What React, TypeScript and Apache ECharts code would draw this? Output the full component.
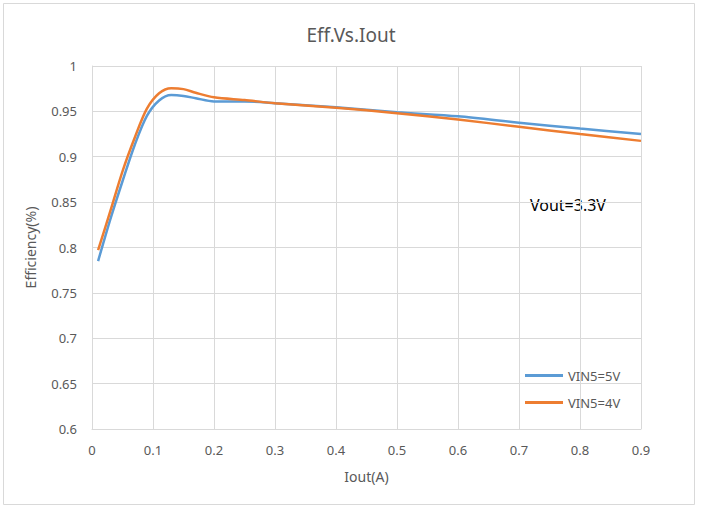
import React, { useEffect, useRef } from "react";
import * as echarts from "echarts";

const iout = [0.01, 0.03, 0.05, 0.07, 0.09, 0.11, 0.13, 0.15, 0.17, 0.2, 0.25, 0.3, 0.4, 0.5, 0.6, 0.7, 0.8, 0.9];
const vin5V = [0.785, 0.831, 0.873, 0.913, 0.945, 0.962, 0.968, 0.967, 0.9645, 0.961, 0.961, 0.959, 0.9545, 0.949, 0.9445, 0.9375, 0.931, 0.925];
const vin4V = [0.797, 0.84, 0.884, 0.921, 0.953, 0.97, 0.9755, 0.9745, 0.9705, 0.9655, 0.9625, 0.959, 0.954, 0.948, 0.941, 0.933, 0.925, 0.9175];
const seriesNames = ["VIN5=5V", "VIN5=4V"];
const titleText = "Eff.Vs.Iout";
const noteText = "Vout=3.3V";

const FONT = "'Noto Sans', 'Open Sans', sans-serif";
const TXT = "#595959";
const GRID = "#d9d9d9";

export default function App() {
  const ref = useRef<HTMLDivElement>(null);
  useEffect(() => {
    if (!ref.current) return;
    const chart = echarts.init(ref.current, null, { renderer: "svg" });
    const pair = (ys: number[]) => iout.map((x, i) => [x, ys[i]]);
    chart.setOption({
      animation: false,
      backgroundColor: "#fff",
      title: {
        text: titleText,
        left: "center",
        top: 20,
        textStyle: { fontFamily: FONT, fontSize: 19, fontWeight: "normal", color: TXT },
      },
      grid: { left: 92, right: 61, top: 66, bottom: 81 },
      legend: {
        orient: "vertical",
        left: 520,
        top: 364,
        itemWidth: 38,
        itemHeight: 3,
        itemGap: 14,
        icon: "rect",
        textStyle: { fontFamily: FONT, fontSize: 13, color: TXT },
        data: seriesNames,
      },
      graphic: [
        {
          type: "rect",
          shape: { x: 3.5, y: 3.5, width: 691, height: 501 },
          style: { fill: "none", stroke: GRID, lineWidth: 1 },
          silent: true,
        },
        {
          type: "text",
          left: 530,
          top: 197,
          style: { text: noteText, fontFamily: FONT, fontSize: 16, fill: "#000" },
        },
      ],
      xAxis: {
        type: "value",
        min: 0,
        max: 0.9,
        interval: 0.1,
        name: "Iout(A)",
        nameLocation: "middle",
        nameGap: 40,
        nameTextStyle: { fontFamily: FONT, fontSize: 14, color: TXT },
        axisLine: { show: true, lineStyle: { color: GRID } },
        axisTick: { show: false },
        axisLabel: { fontFamily: FONT, fontSize: 13, color: TXT, margin: 14 },
        splitLine: { show: true, lineStyle: { color: GRID } },
      },
      yAxis: {
        type: "value",
        min: 0.6,
        max: 1,
        interval: 0.05,
        name: "Efficiency(%)",
        nameLocation: "middle",
        nameGap: 55,
        nameTextStyle: { fontFamily: FONT, fontSize: 14, color: TXT },
        axisLine: { show: true, lineStyle: { color: GRID } },
        axisTick: { show: false },
        axisLabel: { fontFamily: FONT, fontSize: 13, color: TXT, margin: 15 },
        splitLine: { show: true, lineStyle: { color: GRID } },
      },
      series: [
        {
          name: seriesNames[0],
          type: "line",
          data: pair(vin5V),
          smooth: 0.3,
          showSymbol: false,
          lineStyle: { color: "#5B9BD5", width: 2.5 },
          itemStyle: { color: "#5B9BD5" },
        },
        {
          name: seriesNames[1],
          type: "line",
          data: pair(vin4V),
          smooth: 0.3,
          showSymbol: false,
          lineStyle: { color: "#ED7D31", width: 2.5 },
          itemStyle: { color: "#ED7D31" },
        },
      ],
    });
    return () => chart.dispose();
  }, []);
  return (
    <div
      ref={ref}
      style={{ position: "fixed", left: 0, top: 0, width: 702, height: 510 }}
    />
  );
}
